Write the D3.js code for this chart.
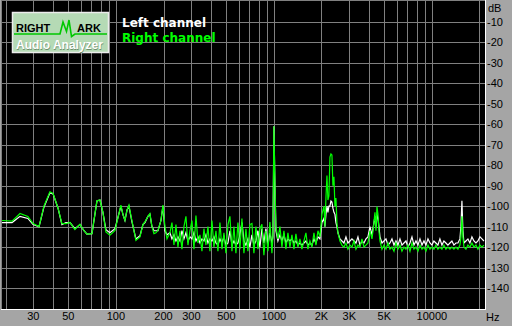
<!DOCTYPE html>
<html lang="en">
<head>
  <meta charset="UTF-8">
  <title>RightMark spectrum</title>
  <script src="https://cdn.jsdelivr.net/npm/d3@7"></script>
  <style>
    body { margin: 0; background: #a5a5a5; }
    svg { display: block; }
    .tick-label { font-family: "Liberation Sans", Arial, sans-serif; font-size: 11px; fill: #000; }
    .legend { font-family: "DejaVu Sans", Verdana, sans-serif; font-size: 12px; font-weight: bold; }
    .logo-text { font-family: "Liberation Sans", Arial, sans-serif; font-weight: bold; }
  </style>
</head>
<body>
  <div id="chart"></div>

  <script>
    // Frequencies (Hz) of the spectrum points, shared by both channels
    const freqs = [
      19.0, 22.0, 24.7, 27.7, 29.9, 32.6, 35.0, 38.2, 40.0, 43.0, 45.5, 48.3, 51.2, 55.0, 59.2,
      62.8, 65.5, 70.5, 75.8, 79.2, 82.7, 86.4, 91.6, 98.6, 107.5, 110.7, 114.0, 117.4, 120.8,
      126.2, 133.8, 141.9, 148.2, 152.6, 159.3, 164.1, 169.0, 174.0, 179.2, 184.6, 192.7, 198.4,
      204.3, 210.4, 219.7,
      226.2, 232.9, 239.8, 246.9, 254.2, 261.7, 269.4, 277.4, 285.6, 294.1, 302.8, 311.7, 320.9,
      330.4, 340.2, 350.3, 360.6, 371.3, 382.3, 393.6, 405.2, 417.2, 429.5, 442.2, 455.3, 468.8,
      482.6, 496.9, 511.6, 526.7, 542.3, 558.3, 574.8, 591.8, 609.3, 627.3, 645.9, 664.9, 684.6,
      704.8, 725.7, 747.1, 769.2, 792.0, 815.4, 839.5, 864.3, 889.9, 916.2, 943.3, 971.2,
      985.5, 1000, 1014.7, 1029.6,
      1060, 1091.4, 1123.6, 1156.9, 1191, 1226.3, 1262.6, 1300, 1338.5, 1378, 1418.8, 1460.8,
      1504, 1548.5, 1594.4, 1641.5, 1690, 1740, 1791.5, 1844.6, 1899.2, 1955.3,
      2013, 2073, 2103, 2134, 2166, 2197, 2229, 2262, 2296, 2329, 2363, 2398, 2433, 2469, 2505, 2542,
      2618, 2695, 2775, 2857, 2941, 3028, 3118, 3210, 3305, 3403, 3504, 3607, 3714, 3824, 3937,
      4054, 4174,
      4297, 4360, 4424, 4489, 4555, 4622,
      4690, 4829, 4972, 5119, 5270, 5426, 5587, 5752, 5922, 6097, 6278, 6463, 6655, 6852, 7054,
      7263, 7478, 7699, 7927, 8161, 8403, 8651, 8907, 9171, 9442, 9721, 10000, 10296, 10600,
      10914, 11237, 11569, 11912, 12264, 12628, 13001, 13386, 13782, 14190, 14610, 15043,
      15266, 15488, 15715, 15946, 16418, 16903, 17403, 17918, 18448, 18995, 19557, 20136, 20732, 21346
    ];

    // Left channel level, dB
    const leftDb = [
      -108, -108, -105, -106, -109, -110, -100.5, -93.5, -94, -101, -109, -108, -108, -111, -109,
      -112, -113.7, -113.5, -97.5, -97, -103, -111.5, -113, -111, -100, -104, -107, -102, -100,
      -107.5, -116, -114.5, -109, -108, -105, -104, -110, -112, -112, -112, -107, -100,
      -112, -114, -113,
      -116, -114, -117, -115, -117, -112, -116, -113, -117, -115, -116, -113, -117,
      -115, -118, -116, -117, -114, -118, -116, -117, -115, -118, -119, -116, -118,
      -115, -119, -118, -112, -119, -117, -119, -118, -114, -108, -117, -119, -116,
      -120, -114, -119, -117, -112, -120, -111, -118, -111, -119, -113, -118,
      -115, -61, -90, -112,
      -117, -114, -117, -114, -118, -116, -117, -116, -118, -117, -119, -118,
      -119, -118, -117, -119, -118, -119, -116, -118, -115, -116,
      -108, -106, -110, -104, -100, -103, -100, -100, -97.5, -98, -101, -103, -104, -108, -110, -113,
      -116, -117, -118, -115, -118, -117, -116, -117, -118, -115, -119, -117, -118, -116, -115,
      -110, -114,
      -108, -105, -110, -104, -106, -110,
      -115, -118, -117, -116, -119, -118, -116, -119, -117, -119, -116, -119, -118, -117, -120,
      -118, -115, -119, -117, -119, -116, -119, -117, -119, -116, -118, -119, -117, -118,
      -119, -116, -119, -117, -118, -119, -118, -117, -119, -118, -118, -116,
      -110, -97.4, -112, -118, -117, -116, -118, -115, -117, -118, -117, -115, -116, -117
    ];

    // Right channel level, dB
    const rightDb = [
      -107, -107.3, -103.6, -105, -108.5, -110, -100, -93, -93.8, -101, -108.5, -108.5, -108, -111.4, -108.8,
      -112, -113.7, -113.4, -97.4, -97, -103, -112.6, -114.2, -111.8, -99.5, -104, -107, -102, -99.5,
      -107, -116.7, -115, -109, -107.7, -105, -103.6, -110, -113.4, -113, -111.8, -107, -99.5,
      -110, -115.9, -113,
      -108, -119, -109, -120, -112, -121, -110, -105, -119, -112, -107, -121, -104.6,
      -118, -114, -122, -111, -119, -110, -122, -107, -120, -112, -122, -108, -121,
      -113, -123, -109, -105, -122, -110, -123, -108, -121, -106, -123, -111, -122,
      -109, -108.5, -123, -110, -121, -111, -108.8, -124, -112, -122, -107.7, -123,
      -115, -61, -88, -110,
      -116, -110, -120, -112, -121, -113, -120, -114, -121, -113.5, -120, -116,
      -121, -117, -113, -121, -117, -120, -113, -119, -112, -115,
      -104, -100, -110, -96, -85, -97, -95, -76, -74.5, -75, -90, -85.6, -100, -96, -108, -113,
      -117, -119, -120, -118, -121, -119, -120, -117, -121, -119, -120, -116, -120, -119, -118,
      -112, -116,
      -108, -103, -112, -100.2, -104, -112,
      -117, -121, -119, -121, -118, -121, -120, -122, -118, -121, -119, -122, -120, -121, -119,
      -122, -118, -121, -120, -122, -119, -121, -120, -122, -119, -121, -120, -121, -119,
      -121, -120, -121, -119, -121, -120, -121, -120, -121, -120, -121, -119,
      -115, -105, -115, -120, -121, -119, -120, -118, -120, -119, -121, -119, -120, -119
    ];

    // Axis ticks and grid
    const dbTicks = [-10, -20, -30, -40, -50, -60, -70, -80, -90, -100, -110, -120, -130, -140];
    const gridFreqs = [20, 30, 40, 50, 60, 70, 80, 90, 100, 200, 300, 400, 500, 600, 700, 800, 900,
      1000, 2000, 3000, 4000, 5000, 6000, 7000, 8000, 9000, 10000, 20000];
    const freqTicks = [30, 50, 100, 200, 300, 500, 1000, 2000, 3000, 5000, 10000];
    const freqTickLabels = ['30', '50', '100', '200', '300', '500', '1000', '2K', '3K', '5K', '10000'];
    const seriesNames = ['Left channel', 'Right channel'];
    const seriesColors = ['#ffffff', '#00ff00'];

    const width = 512, height = 326;
    const plot = { left: 2, top: 1, right: 485, bottom: 309 };

    const svg = d3.select('#chart')
      .append('svg')
        .attr('width', width)
        .attr('height', height);

    svg.append('rect')
      .attr('width', width).attr('height', height)
      .attr('fill', '#a5a5a5');

    const x = d3.scaleLog().domain([19, 21680]).range([plot.left, plot.right]);
    const y = d3.scaleLinear().domain([0, -150]).range([1.5, 308.5]);

    // Plot background
    svg.append('rect')
      .attr('x', plot.left).attr('y', plot.top)
      .attr('width', plot.right - plot.left).attr('height', plot.bottom - plot.top)
      .attr('fill', '#000');

    // Grid
    const grid = svg.append('g')
      .attr('stroke', '#808080')
      .attr('stroke-width', 1)
      .attr('shape-rendering', 'crispEdges');

    grid.selectAll('line.v')
      .data(gridFreqs)
      .enter().append('line')
        .attr('class', 'v')
        .attr('x1', d => Math.round(x(d)) + 0.5).attr('x2', d => Math.round(x(d)) + 0.5)
        .attr('y1', plot.top).attr('y2', plot.bottom);

    grid.selectAll('line.h')
      .data(dbTicks)
      .enter().append('line')
        .attr('class', 'h')
        .attr('x1', plot.left).attr('x2', plot.right)
        .attr('y1', d => Math.round(y(d)) + 0.5).attr('y2', d => Math.round(y(d)) + 0.5);

    // Frame: dark top/left, white bottom/right
    svg.append('path')
      .attr('d', `M${plot.left - 0.5},${plot.bottom}V${plot.top - 0.5}H${plot.right}`)
      .attr('fill', 'none').attr('stroke', '#808080')
      .attr('shape-rendering', 'crispEdges');
    svg.append('path')
      .attr('d', `M${plot.left - 1},${plot.bottom + 0.5}H${plot.right + 0.5}V${plot.top - 1}`)
      .attr('fill', 'none').attr('stroke', '#ffffff')
      .attr('shape-rendering', 'crispEdges');

    // Spectrum traces
    const line = d3.line()
      .x(d => x(d[0]))
      .y(d => y(d[1]));

    const plotArea = svg.append('g');
    [leftDb, rightDb].forEach((vals, i) => {
      plotArea.append('path')
        .datum(freqs.map((f, k) => [f, vals[k]]))
        .attr('d', line)
        .attr('fill', 'none')
        .attr('stroke', seriesColors[i])
        .attr('stroke-width', 1.2)
        .attr('stroke-linejoin', 'miter');
    });

    // Y labels on the right
    svg.selectAll('text.ylab')
      .data(dbTicks)
      .enter().append('text')
        .attr('class', 'tick-label')
        .attr('x', 487)
        .attr('y', d => y(d) + 4)
        .text(d => d);
    svg.append('text')
      .attr('class', 'tick-label')
      .attr('x', 488).attr('y', 12)
      .text('dB');

    // X labels
    svg.selectAll('text.xlab')
      .data(freqTicks)
      .enter().append('text')
        .attr('class', 'tick-label')
        .attr('x', d => x(d))
        .attr('y', 320)
        .attr('text-anchor', 'middle')
        .text((d, i) => freqTickLabels[i]);
    svg.append('text')
      .attr('class', 'tick-label')
      .attr('x', 486).attr('y', 321)
      .text('Hz');

    // Logo
    const logo = svg.append('g').attr('transform', 'translate(12,12)');
    logo.append('rect')
      .attr('x', 0.5).attr('y', 0.5).attr('width', 96).attr('height', 40)
      .attr('fill', '#b5dab5').attr('stroke', '#ececec').attr('stroke-width', 1.5);
    logo.append('text')
      .attr('class', 'logo-text')
      .attr('x', 4).attr('y', 20)
      .attr('font-size', 11).attr('fill', '#000')
      .text('RIGHT');
    logo.append('text')
      .attr('class', 'logo-text')
      .attr('x', 65).attr('y', 20)
      .attr('font-size', 11).attr('fill', '#000')
      .text('ARK');
    logo.append('polyline')
      .attr('points', '2,22 48,22 51,10 54.5,19.5 57,8 59.5,24.5 63,22 95,22')
      .attr('fill', 'none').attr('stroke', '#00c800').attr('stroke-width', 1.6);
    logo.append('text')
      .attr('class', 'logo-text')
      .attr('x', 4.5).attr('y', 37.5)
      .attr('font-size', 12).attr('fill', '#6e8f6e')
      .text('Audio Analyzer');
    logo.append('text')
      .attr('class', 'logo-text')
      .attr('x', 4).attr('y', 37)
      .attr('font-size', 12).attr('fill', '#ffffff')
      .text('Audio Analyzer');

    // Legend
    svg.selectAll('text.legend')
      .data(seriesNames)
      .enter().append('text')
        .attr('class', 'legend')
        .attr('x', 122)
        .attr('y', (d, i) => 27 + i * 15)
        .attr('fill', (d, i) => seriesColors[i])
        .text(d => d);
  </script>
</body>
</html>
